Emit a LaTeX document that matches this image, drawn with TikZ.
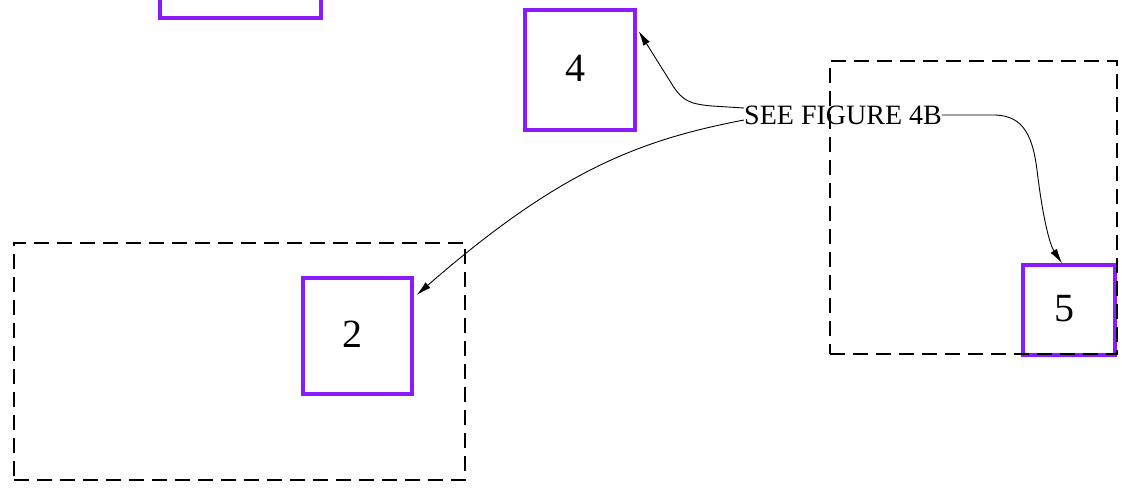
\documentclass[tikz,border=0pt]{standalone}
\usepackage{fontspec}
\setmainfont{Liberation Serif}
\usetikzlibrary{arrows.meta}
\definecolor{pviolet}{RGB}{140,26,255}
\newcommand{\boxnum}[1]{\raisebox{3pt}{#1}\kern10pt}
\tikzset{
  pbox/.style={draw=pviolet, line width=3.2pt, rectangle, inner sep=0pt, font=\fontsize{40}{44}\selectfont},
  dbox/.style={draw=black, line width=1.8pt, dash pattern=on 15pt off 8pt, rectangle, inner sep=0pt},
  arr/.style={draw=black, line width=0.9pt, -{Latex[length=15pt,width=7.5pt]}},
  lbl/.style={inner sep=0pt, font=\fontsize{28}{30}\selectfont}
}
\begin{document}
\begin{tikzpicture}[x=1pt,y=-1pt]
\useasboundingbox (0,0) rectangle (1122,490);
\begin{scope}
\clip (0,0) rectangle (1122,490);
\node[pbox, minimum width=161pt, minimum height=80pt] (b1) at (240.5,-22) {};
\node[pbox, minimum width=110pt, minimum height=120pt] (b4) at (580,70) {\boxnum{4}};
\node[pbox, minimum width=109pt, minimum height=116pt] (b2) at (357.5,336) {\boxnum{2}};
\node[pbox, minimum width=92pt, minimum height=90pt] (b5) at (1069,310) {\boxnum{5}};
\node[dbox, minimum width=451pt, minimum height=237pt] (dl) at (239.5,361.5) {};
\node[dbox, minimum width=287pt, minimum height=293pt] (dr) at (973.5,207.5) {};
\node[lbl] (t) at (843,115) {SEE FIGURE 4B};
\draw[arr] ([yshift=7pt]t.west) -- (712,106) .. controls (690,104) and (683,101) .. (673,86) -- ([yshift=39pt,xshift=2pt]b4.east);
\draw[arr] ([yshift=-5pt]t.west) .. controls (640,140) and (560,170) .. ([yshift=41pt,xshift=3pt]b2.east);
\draw[arr] (t.east) -- (990,115) .. controls (1020,114) and (1032,130) .. (1037,170) .. controls (1043,220) and (1050,245) .. ([xshift=-7pt]b5.north);
\end{scope}
\end{tikzpicture}
\end{document}
